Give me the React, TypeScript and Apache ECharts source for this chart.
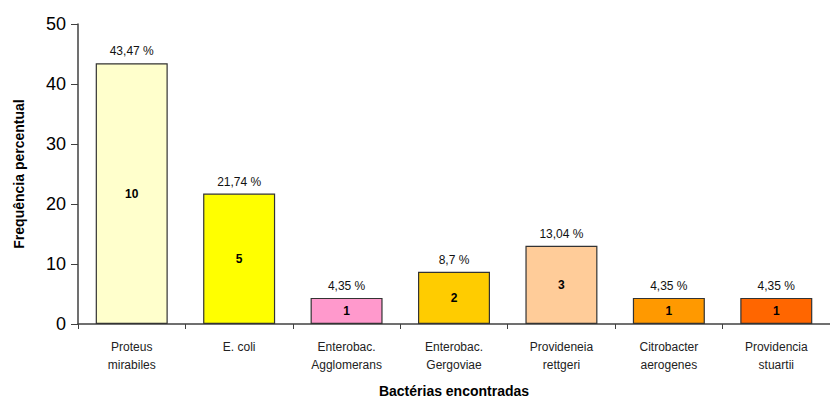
import React, { useEffect, useRef } from "react";
import * as echarts from "echarts";

const categories = [
  "Proteus\nmirabiles",
  "E. coli",
  "Enterobac.\nAgglomerans",
  "Enterobac.\nGergoviae",
  "Provideneia\nrettgeri",
  "Citrobacter\naerogenes",
  "Providencia\nstuartii",
];
const percentValues = [43.47, 21.74, 4.35, 8.7, 13.04, 4.35, 4.35];
const counts = [10, 5, 1, 2, 3, 1, 1];
const barColors = ["#FFFFCC", "#FFFF00", "#FF99CC", "#FFCC00", "#FFCC99", "#FF9900", "#FF6600"];
const yTicks = [0, 10, 20, 30, 40, 50];

const FONT = "'Liberation Sans', Arial, sans-serif";

export default function App() {
  const ref = useRef<HTMLDivElement>(null);
  useEffect(() => {
    if (!ref.current) return;
    const chart = echarts.init(ref.current, undefined, { renderer: "svg" });
    chart.setOption({
      animation: false,
      backgroundColor: "#ffffff",
      grid: { left: 78, top: 24, width: 760, height: 304, containLabel: false },
      xAxis: {
        type: "category",
        data: categories,
        boundaryGap: true,
        name: "Bactérias encontradas",
        nameLocation: "middle",
        nameGap: 60,
        nameTextStyle: { fontFamily: FONT, fontSize: 14, fontWeight: "bold", color: "#000" },
        axisLine: { lineStyle: { color: "#404040", width: 1.5 } },
        axisTick: { show: true, length: 5, lineStyle: { color: "#404040" }, alignWithLabel: false },
        axisLabel: {
          fontFamily: FONT,
          fontSize: 12,
          color: "#222",
          margin: 14,
          lineHeight: 18,
          interval: 0,
        },
      },
      yAxis: {
        type: "value",
        min: yTicks[0],
        max: yTicks[yTicks.length - 1],
        interval: 10,
        name: "Frequência percentual",
        nameLocation: "middle",
        nameGap: 52,
        nameRotate: 90,
        nameTextStyle: { fontFamily: FONT, fontSize: 14, fontWeight: "bold", color: "#000" },
        axisLine: { show: true, lineStyle: { color: "#404040", width: 1.5 } },
        axisTick: { show: true, length: 7, lineStyle: { color: "#404040" } },
        axisLabel: { fontFamily: FONT, fontSize: 18, color: "#000", margin: 12 },
        splitLine: { show: false },
      },
      series: [
        {
          type: "bar",
          barWidth: 72,
          data: percentValues.map((v, i) => ({
            value: v,
            itemStyle: { color: barColors[i], borderColor: "#333", borderWidth: 1.2 },
          })),
          label: {
            show: true,
            position: "inside",
            fontFamily: FONT,
            fontSize: 12,
            fontWeight: "bold",
            color: "#000",
            formatter: (p: any) => String(counts[p.dataIndex]),
          },
        },
        {
          type: "bar",
          barWidth: 72,
          barGap: "-100%",
          silent: true,
          data: percentValues,
          itemStyle: { color: "transparent" },
          label: {
            show: true,
            position: "top",
            distance: 6,
            fontFamily: FONT,
            fontSize: 12,
            color: "#111",
            formatter: (p: any) => String(p.value).replace(".", ",") + " %",
          },
        },
      ],
    });
    return () => chart.dispose();
  }, []);
  return <div ref={ref} style={{ width: 830, height: 403, position: "absolute", left: 0, top: 0 }} />;
}
